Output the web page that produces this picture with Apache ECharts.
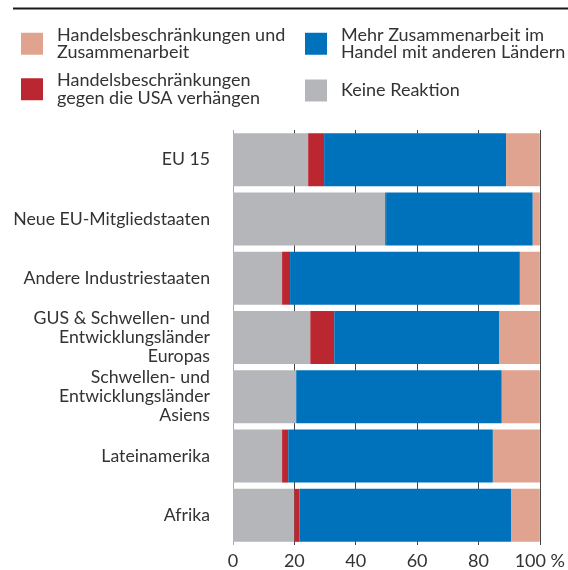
<!DOCTYPE html>
<html>
<head>
<meta charset="utf-8">
<script src="https://cdn.jsdelivr.net/npm/echarts@6/dist/echarts.min.js"></script>
<style>
  html, body { margin: 0; padding: 0; background: #fff; }
  #chart { width: 568px; height: 570px; }
</style>
</head>
<body>
<div id="chart"></div>
<script>
const categories = [
  'EU 15',
  'Neue EU-Mitgliedstaaten',
  'Andere Industriestaaten',
  'GUS & Schwellen- und\nEntwicklungsländer\nEuropas',
  'Schwellen- und\nEntwicklungsländer\nAsiens',
  'Lateinamerika',
  'Afrika'
]
const keineReaktion = [24.5, 49.6, 16.0, 25.2, 20.6, 16.0, 20.0]
const gegenUSA = [5.2, 0.3, 2.6, 7.8, 0, 2.0, 1.7]
const mehrZusammenarbeit = [59.3, 47.8, 74.9, 53.7, 67.0, 66.7, 68.9]
const beschrUndZusammen = [11.0, 2.3, 6.5, 13.3, 12.4, 15.3, 9.4]
const xTicks = [0, 20, 40, 60, 80, 100]

const names = {
  grau: 'Keine Reaktion',
  rot: 'Handelsbeschränkungen\ngegen die USA verhängen',
  blau: 'Mehr Zusammenarbeit im\nHandel mit anderen Ländern',
  lachs: 'Handelsbeschränkungen und\nZusammenarbeit'
}
const colors = { grau: '#b5b6b9', rot: '#bb2731', blau: '#0072bc', lachs: '#dfa390' }
const font = 'Lato, "Noto Sans", sans-serif'

const chart = echarts.init(document.getElementById('chart'))

const makeSeries = (key, data) => ({
  name: names[key],
  type: 'bar',
  stack: 'total',
  barWidth: 53,
  data: data,
  itemStyle: { color: colors[key] },
  emphasis: { disabled: true }
})

const legendText = { color: '#333', fontSize: 18, fontFamily: font, lineHeight: 17.5, padding: [0, 0, 0, 9] }

chart.setOption({
  animation: false,
  textStyle: { fontFamily: font },
  graphic: [{
    type: 'line',
    shape: { x1: 13, y1: 8.5, x2: 568, y2: 8.5 },
    style: { stroke: '#1a1a1a', lineWidth: 2 }
  }],
  legend: [
    {
      left: 16, top: 21, orient: 'vertical',
      itemWidth: 22, itemHeight: 22, itemGap: 10,
      icon: 'rect',
      textStyle: legendText,
      selectedMode: false,
      data: [names.lachs, names.rot]
    },
    {
      left: 300, top: 21, orient: 'vertical',
      itemWidth: 22, itemHeight: 22, itemGap: 18,
      icon: 'rect',
      textStyle: legendText,
      selectedMode: false,
      data: [names.blau, names.grau]
    }
  ],
  grid: { left: 233, right: 28, top: 130, bottom: 24, containLabel: false },
  xAxis: {
    type: 'value',
    min: 0,
    max: 100,
    interval: 20,
    axisLine: { show: false },
    axisTick: { show: false },
    splitLine: {
      show: true,
      lineStyle: { color: ['#aaaaaa', '#444', '#444', '#444', '#444', '#444'], width: 1 }
    },
    axisLabel: {
      color: '#333',
      fontSize: 18,
      margin: 7,
      formatter: v => (xTicks.includes(v) ? (v === 100 ? '100 %' : String(v)) : '')
    }
  },
  yAxis: {
    type: 'category',
    inverse: true,
    data: categories,
    axisLine: { show: false },
    axisTick: { show: false },
    axisLabel: {
      color: '#333',
      fontSize: 17.7,
      lineHeight: 19,
      margin: 23,
      align: 'right'
    }
  },
  series: [
    makeSeries('grau', keineReaktion),
    makeSeries('rot', gegenUSA),
    makeSeries('blau', mehrZusammenarbeit),
    makeSeries('lachs', beschrUndZusammen)
  ]
})
</script>
</body>
</html>
